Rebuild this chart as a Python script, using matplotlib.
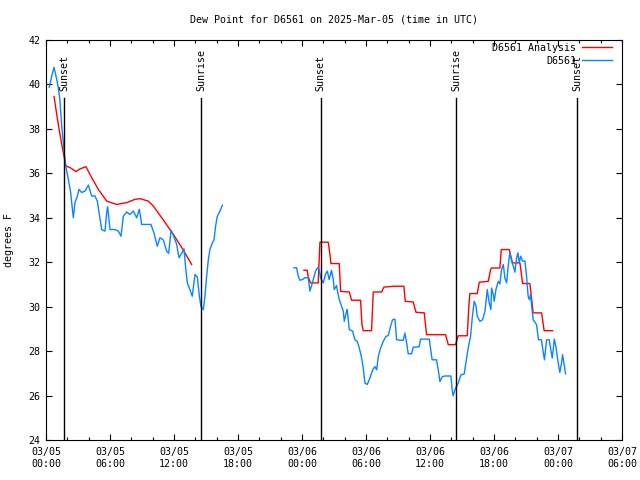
import numpy as np
import pandas as pd
import matplotlib
matplotlib.use('Agg')
import matplotlib.pyplot as plt
import matplotlib.dates as mdates

plt.rcParams['font.family'] = ['DejaVu Sans Mono']
plt.rcParams['font.size'] = 7.2

start = pd.Timestamp('2025-03-05 00:00')

# observed dew point (hours since 03/05 00:00 UTC, deg F)
obs1_h = [0.31, 0.55, 0.75, 1.0, 1.15, 1.3, 1.47, 1.69, 1.78, 2.09, 2.31, 2.56, 2.72, 2.94, 3.09,
          3.34, 3.65, 3.97, 4.28, 4.59, 4.81, 5.0, 5.22, 5.53, 5.69, 5.78, 6.0, 6.47, 6.78, 7.03,
          7.25, 7.56, 7.87, 8.19, 8.5, 8.75, 8.97, 9.44, 9.84, 10.12, 10.43, 10.68, 11.0, 11.31,
          11.5, 11.72, 12.03, 12.25, 12.47, 12.72, 12.94, 13.1, 13.25, 13.43, 13.71, 13.97, 14.19,
          14.37, 14.53, 14.75, 14.9, 15.06, 15.22, 15.37, 15.59, 15.75, 15.9, 16.06, 16.31, 16.53]
obs1_v = [39.87, 40.4, 40.77, 40.24, 39.87, 39.3, 38.13, 37.08, 36.5, 35.73, 35.14, 34.0, 34.7, 34.97, 35.28,
          35.14, 35.2, 35.47, 34.98, 34.98, 34.75, 34.15, 33.47, 33.4, 34.24, 34.5, 33.47, 33.47, 33.4, 33.17,
          34.07, 34.26, 34.15, 34.3, 34.0, 34.38, 33.7, 33.7, 33.7, 33.32, 32.72, 33.1, 33.0, 32.5,
          32.4, 33.44, 33.1, 32.8, 32.2, 32.4, 32.6, 31.7, 31.07, 30.85, 30.47, 31.45, 31.33,
          30.5, 30.0, 29.87, 30.47, 31.37, 32.12, 32.57, 32.87, 33.0, 33.62, 34.07, 34.3, 34.56]

obs2_h = [23.24, 23.49, 23.65, 23.8, 24.05, 24.27, 24.58, 24.74, 24.9, 25.05, 25.27, 25.46, 25.62, 25.74,
          25.99, 26.21, 26.37, 26.55, 26.77, 26.93, 27.02, 27.24, 27.33, 27.49, 27.71, 27.87, 27.96, 28.18,
          28.24, 28.43, 28.74, 28.96, 29.18, 29.37, 29.59, 29.74, 29.9, 30.12, 30.37, 30.62, 30.84, 31.0,
          31.15, 31.37, 31.62, 31.87, 32.09, 32.3, 32.49, 32.71, 32.87, 33.18, 33.49, 33.65, 33.8, 33.96,
          34.27, 34.43, 34.74, 34.99, 35.11, 35.52, 35.93, 36.05, 36.2, 36.61, 36.77, 36.93, 37.15, 37.4,
          37.71, 37.96, 38.08, 38.17, 38.39, 38.64, 38.9, 39.21, 39.36, 39.58, 39.8, 39.96, 40.14, 40.3,
          40.43, 40.68, 40.93, 41.15, 41.37, 41.55, 41.71, 41.77, 41.93, 42.02, 42.18, 42.4, 42.55, 42.71,
          42.87, 43.02, 43.18, 43.33, 43.49, 43.65, 43.87, 43.96, 44.12, 44.24, 44.37, 44.5, 44.68, 44.9,
          45.05, 45.2, 45.3, 45.43, 45.55, 45.67, 45.99, 46.17, 46.45, 46.6, 46.73, 46.86, 46.93, 47.17,
          47.3, 47.46, 47.55, 47.65, 47.8, 47.93, 48.02, 48.17, 48.33, 48.43, 48.58, 48.71]
obs2_v = [31.75, 31.75, 31.37, 31.19, 31.22, 31.3, 31.3, 30.7, 30.95, 31.22, 31.6, 31.75, 31.65, 31.3,
          31.07, 31.47, 31.6, 31.22, 31.64, 31.22, 30.77, 30.95, 30.7, 30.32, 30.02, 29.8, 29.34, 29.8,
          29.87, 28.97, 28.9, 28.51, 28.44, 28.14, 27.7, 27.24, 26.56, 26.5, 26.79, 27.16, 27.3, 27.16,
          27.76, 28.14, 28.44, 28.66, 28.7, 29.11, 29.41, 29.44, 28.51, 28.49, 28.49, 28.81, 28.4, 27.88,
          27.88, 28.18, 28.18, 28.2, 28.54, 28.54, 28.54, 28.14, 27.61, 27.61, 27.16, 26.63, 26.85, 26.88,
          26.88, 26.88, 26.26, 25.99, 26.33, 26.56, 26.93, 26.97, 27.46, 28.14, 28.66, 29.49, 30.24, 30.06,
          29.57, 29.34, 29.41, 29.79, 30.77, 30.17, 29.87, 30.84, 30.54, 30.24, 30.77, 31.14, 31.02, 31.67,
          31.9, 31.29, 31.07, 31.82, 32.45, 32.05, 31.74, 31.55, 32.2, 32.42, 31.97, 32.27, 32.05, 32.05,
          31.37, 30.47, 30.32, 30.54, 29.94, 29.41, 29.19, 28.51, 28.51, 27.99, 27.61, 28.21, 28.51, 28.51,
          28.14, 27.69, 28.06, 28.54, 28.21, 27.76, 27.46, 27.04, 27.46, 27.84, 27.39, 26.98]

# analysis dew point
ana1_h = [0.75, 1.15, 1.37, 1.56, 1.69, 1.87, 2.25, 2.81, 3.19, 3.75, 4.12, 4.9, 5.69, 6.62, 7.56,
          8.34, 8.81, 9.59, 10.06, 11.0, 11.94, 12.87, 13.65]
ana1_v = [39.46, 38.2, 37.6, 37.08, 36.78, 36.33, 36.26, 36.08, 36.2, 36.3, 35.95, 35.28, 34.75, 34.6, 34.68,
          34.83, 34.86, 34.75, 34.53, 33.9, 33.25, 32.55, 31.9]

ana2_h = [24.18, 24.49, 24.58, 24.8, 25.52, 25.68, 26.46, 26.62, 26.71, 27.49, 27.62, 28.43, 28.65, 29.49,
          29.62, 29.74, 30.52, 30.68, 31.46, 31.68, 32.62, 33.55, 33.68, 34.43, 34.68, 35.46, 35.68, 37.46,
          37.71, 38.39, 38.65, 39.49, 39.65, 39.74, 40.43, 40.62, 41.46, 41.68, 41.77, 42.55, 42.68, 43.43,
          43.55, 43.74, 44.43, 44.68, 45.36, 45.52, 45.67, 46.46, 46.7, 47.49]
ana2_v = [31.64, 31.64, 31.35, 31.07, 31.07, 32.9, 32.9, 32.35, 31.94, 31.94, 30.69, 30.66, 30.29, 30.29,
          29.19, 28.92, 28.92, 30.66, 30.66, 30.88, 30.92, 30.92, 30.24, 30.21, 29.75, 29.72, 28.74, 28.74,
          28.29, 28.29, 28.69, 28.69, 30.09, 30.59, 30.59, 31.1, 31.14, 31.67, 31.74, 31.74, 32.57, 32.57,
          32.3, 31.97, 31.97, 31.04, 31.04, 30.39, 29.72, 29.72, 28.92, 28.92]

# sun events (hours since start)
sun_h = [1.72, 14.52, 25.74, 38.48, 49.77]
sun_lbl = ['Sunset', 'Sunrise', 'Sunset', 'Sunrise', 'Sunset']


def to_time(hours):
    return start + pd.to_timedelta(np.array(hours), unit='h')


fig = plt.figure(figsize=(6.4, 4.8), dpi=100)
ax = fig.add_axes([46/640, 40/480, 576/640, 400/480])

red = '#ff0000'
blue = '#0a84ff'
ax.plot(to_time(ana1_h), ana1_v, color=red, lw=1.0, label='D6561 Analysis')
ax.plot(to_time(ana2_h), ana2_v, color=red, lw=1.0)
ax.plot(to_time(obs1_h), obs1_v, color=blue, lw=1.0, label='D6561')
ax.plot(to_time(obs2_h), obs2_v, color=blue, lw=1.0)

for h, lbl in zip(sun_h, sun_lbl):
    t = to_time([h])[0]
    ax.plot([t, t], [24, 39.4], color='black', lw=1.0)
    ax.text(t, 39.7, lbl, rotation=90, ha='center', va='bottom')

ax.set_xlim(start, start + pd.Timedelta(hours=54))
ax.set_ylim(24, 42)
ax.set_yticks(np.arange(24, 43, 2))
ax.xaxis.set_major_locator(mdates.HourLocator(byhour=[0, 6, 12, 18]))
ax.xaxis.set_minor_locator(mdates.HourLocator(byhour=range(0, 24, 2)))
ax.xaxis.set_major_formatter(mdates.DateFormatter('%m/%d\n%H:%M'))

ax.tick_params(which='both', direction='in', top=True, right=True)
ax.tick_params(which='major', length=4.5, width=0.8)
ax.tick_params(which='minor', length=2.5, width=0.8)
ax.tick_params(axis='x', pad=5)
ax.tick_params(axis='y', pad=4)
for s in ax.spines.values():
    s.set_linewidth(0.8)

ax.set_ylabel('degrees F')
ax.yaxis.set_label_coords(-0.055, 0.5)

fig.text(334/640, 1 - 20/480, 'Dew Point for D6561 on 2025-Mar-05 (time in UTC)',
         ha='center', va='center')

ax.legend(loc='upper right', bbox_to_anchor=(0.983, 0.993), frameon=False, markerfirst=False,
          borderpad=0, borderaxespad=0, handlelength=3.0, handletextpad=0.6, labelspacing=0.3)

fig.savefig('out.png', dpi=100)
